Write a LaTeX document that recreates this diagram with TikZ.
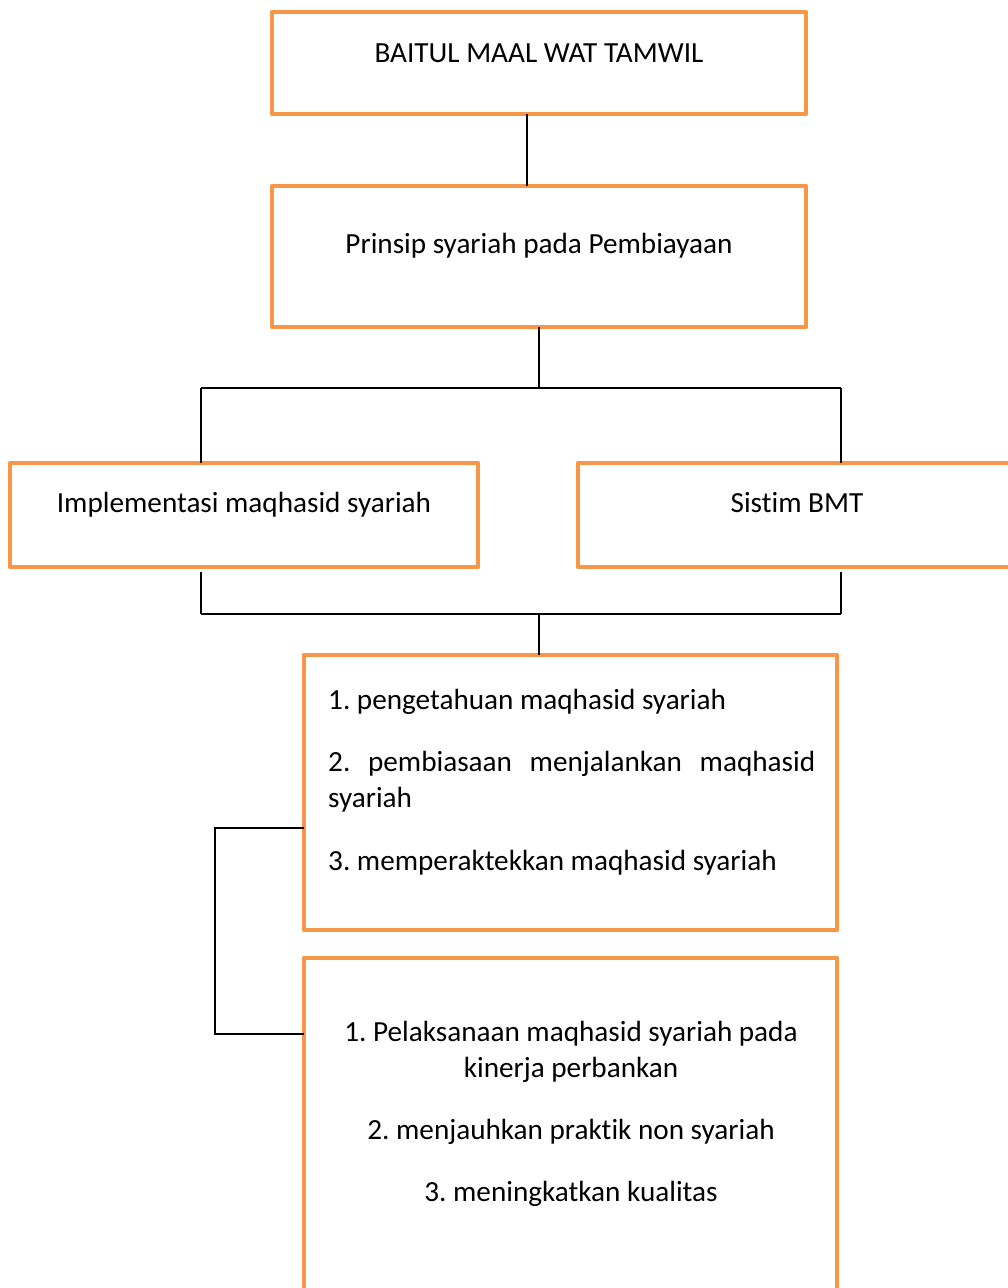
\documentclass[tikz,border=0pt]{standalone}
\usepackage{fontspec}
\setmainfont[Ligatures=NoCommon]{Carlito}
\definecolor{boxorange}{HTML}{F79646}
\begin{document}
\frenchspacing
\begin{tikzpicture}[x=1pt,y=-1pt,
  obox/.style={draw=boxorange, line width=4.5pt, line join=round, rectangle, inner sep=0pt, outer sep=0pt, anchor=north west},
  conn/.style={draw=black, line width=1.8pt},
  lbl/.style={inner sep=0pt, font=\fontsize{29.2}{36}\selectfont}]
\useasboundingbox[fill=white] (0,0) rectangle (1007,1288);
% boxes
\node[obox, minimum width=534pt, minimum height=102pt] (b1) at (272,12) {};
\node[obox, minimum width=534pt, minimum height=141pt] (b2) at (272,186) {};
\node[obox, minimum width=468pt, minimum height=104pt] (b3) at (10,463) {};
\node[obox, minimum width=438pt, minimum height=104pt] (b4) at (578,463) {};
\node[obox, minimum width=533pt, minimum height=275pt] (b5) at (304,655) {};
\node[obox, minimum width=533pt, minimum height=360pt] (b6) at (304,958) {};
% texts
\node[lbl, anchor=base] (t1) at (539,62) {BAITUL MAAL WAT TAMWIL};
\node[lbl, anchor=base] (t2) at (539,253) {Prinsip syariah pada Pembiayaan};
\node[lbl, anchor=base] (t3) at (244,512) {Implementasi maqhasid syariah};
\node[lbl, anchor=base] (t4) at (797,512) {Sistim BMT};
\node[lbl, anchor=base west] (t5a) at (328,709) {1. pengetahuan maqhasid syariah};
\node[lbl, anchor=base west] (t5b) at (328,771) {\hbox to 487pt{2.\hfill pembiasaan\hfill menjalankan\hfill maqhasid}};
\node[lbl, anchor=base west] (t5c) at (328,807) {syariah};
\node[lbl, anchor=base west] (t5d) at (328,870) {3. memperaktekkan maqhasid syariah};
\node[lbl, anchor=base] (t6a) at (571,1041) {1. Pelaksanaan maqhasid syariah pada};
\node[lbl, anchor=base] (t6b) at (571,1077) {kinerja perbankan};
\node[lbl, anchor=base] (t6c) at (571,1139) {2. menjauhkan praktik non syariah};
\node[lbl, anchor=base] (t6d) at (571,1201) {3. meningkatkan kualitas};
% junction points
\coordinate (a1) at (527,114);
\coordinate (j1) at (539,388);
\coordinate (jl) at (201,388);
\coordinate (jr) at (841,388);
\coordinate (kl) at (201,614);
\coordinate (kr) at (841,614);
\coordinate (k1) at (539,614);
\coordinate (m1) at (215,828);
\coordinate (m2) at (215,1034);
% connectors
\draw[conn] (a1) -- (a1 |- b2.north);
\draw[conn] (b2.south) -- (j1);
\draw[conn] (jl) -- (jr);
\draw[conn] (jl) -- (jl |- b3.north);
\draw[conn] (jr) -- (jr |- b4.north);
\draw[conn] ([yshift=-5pt]kl |- b3.south) -- (kl);
\draw[conn] ([yshift=-5pt]kr |- b4.south) -- (kr);
\draw[conn] (kl) -- (kr);
\draw[conn] (k1) -- (k1 |- b5.north);
\draw[conn] (b5.west |- m1) -- (m1) -- (m2) -- (b6.west |- m2);
\end{tikzpicture}
\end{document}
